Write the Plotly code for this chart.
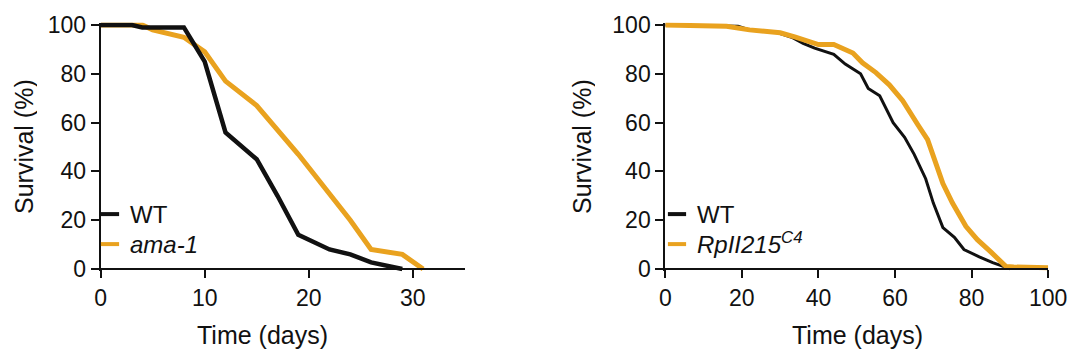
import plotly.graph_objects as go

# ---------------- data ----------------
# Left panel: WT vs ama-1 (days, % survival)
wt1_days = [0, 3, 4, 8, 10, 12, 15, 17, 19, 22, 24, 26, 29]
wt1_surv = [100, 100, 99, 99, 85, 56, 45, 30, 14, 8, 6, 2.7, 0]
ama_days = [0, 4, 5, 8, 10, 12, 15, 19, 24, 26, 29, 31]
ama_surv = [100, 100, 98, 95, 89, 77, 67, 47, 20, 8, 6, 0]

# Right panel: WT vs RpII215C4
wt2_days = [0, 19, 22, 29, 33, 36, 39, 44, 47, 51, 53, 56, 59.5, 62.5, 65, 68, 70,
            72.5, 75.5, 78, 82, 85.5, 89, 90]
wt2_surv = [100, 99.5, 98, 97, 95, 92.5, 90.5, 88, 84, 80, 74, 71, 60, 54, 47, 37, 27,
            17, 13, 8, 5, 2.6, 0.7, 0]
rp_days = [0, 16, 22, 30, 34, 37.5, 40, 44, 49, 51.5, 55, 58.5, 62, 66, 68.5, 72.5,
           75, 78.5, 81.5, 85, 89, 91, 100]
rp_surv = [100, 99.5, 98, 96.8, 95, 93.5, 92, 92, 88.5, 84.5, 80.5, 75.5, 69, 59, 53,
           35, 27, 17.5, 12, 7, 1, 0.8, 0.5]

left_xticks = [0, 10, 20, 30]
right_xticks = [0, 20, 40, 60, 80, 100]
yticks = [0, 20, 40, 60, 80, 100]

BLACK = "#111111"
ORANGE = "#E9A21F"
FONT = "Liberation Sans, Arial, sans-serif"
FS_TICK = 23
FS_TITLE = 25
FS_LEG = 24

fig = go.Figure()

# left panel: orange below black
fig.add_trace(go.Scatter(x=ama_days, y=ama_surv, mode="lines",
                         line=dict(color=ORANGE, width=5), showlegend=False,
                         xaxis="x", yaxis="y"))
fig.add_trace(go.Scatter(x=wt1_days, y=wt1_surv, mode="lines",
                         line=dict(color=BLACK, width=4.5), showlegend=False,
                         xaxis="x", yaxis="y"))
# right panel: black below orange
fig.add_trace(go.Scatter(x=wt2_days, y=wt2_surv, mode="lines",
                         line=dict(color=BLACK, width=3), showlegend=False,
                         xaxis="x2", yaxis="y2"))
fig.add_trace(go.Scatter(x=rp_days, y=rp_surv, mode="lines",
                         line=dict(color=ORANGE, width=5), showlegend=False,
                         xaxis="x2", yaxis="y2"))

# legend entries (short dash symbols), one legend box per entry
def leg(name, color, legend):
    return go.Scatter(x=[None], y=[None], mode="markers", name=name,
                      marker=dict(symbol="line-ew", size=13,
                                  line=dict(width=4, color=color)),
                      legend=legend, showlegend=True)

fig.add_trace(leg("WT", BLACK, "legend"))
fig.add_trace(leg("<i>ama-1</i>", ORANGE, "legend2"))
fig.add_trace(leg("WT", BLACK, "legend3"))
fig.add_trace(leg("<i>RpII215<sup>C4</sup></i>", ORANGE, "legend4"))

# page body has an 8px margin: figure sized to fit the window
OFF = 8
W, H = 1072, 352
def px_x(p):
    return (p - OFF) / W
def px_y(p):
    return 1 - (p - OFF) / H

ydom = [px_y(271.44), px_y(22.56)]
axis_common = dict(showgrid=False, zeroline=False, showline=True, linewidth=2,
                   linecolor=BLACK, ticks="outside", ticklen=8, tickwidth=2,
                   tickcolor=BLACK, automargin=False,
                   tickfont=dict(family=FONT, size=FS_TICK, color=BLACK))

def legbox(xp, yp):
    return dict(x=px_x(xp), y=px_y(yp), xanchor="left", yanchor="top",
                bgcolor="rgba(0,0,0,0)", borderwidth=0,
                font=dict(family=FONT, size=FS_LEG, color=BLACK))

title_font = dict(family=FONT, size=FS_TITLE, color=BLACK)

fig.update_layout(
    width=W, height=H,
    margin=dict(l=0, r=0, t=0, b=0, autoexpand=False),
    paper_bgcolor="white", plot_bgcolor="white",
    font=dict(family=FONT, size=FS_TICK, color=BLACK),
    xaxis=dict(domain=[px_x(100.7), px_x(464.7)], range=[0, 35],
               tickvals=left_xticks, anchor="free", position=px_y(269),
               **axis_common),
    yaxis=dict(domain=ydom, range=[-1, 101], tickvals=yticks, anchor="x",
               **axis_common),
    xaxis2=dict(domain=[px_x(665.3), px_x(1048.2)], range=[0, 100],
                tickvals=right_xticks, anchor="free", position=px_y(269),
                **axis_common),
    yaxis2=dict(domain=ydom, range=[-1, 101], tickvals=yticks, anchor="x2",
                **axis_common),
    legend=legbox(90, 192),
    legend2=legbox(90, 222),
    legend3=legbox(657, 192),
    legend4=legbox(657, 222),
    annotations=[
        dict(text="Survival (%)", x=px_x(23), y=px_y(147), xref="paper", yref="paper",
             textangle=-90, showarrow=False, xanchor="center", yanchor="middle",
             height=27, borderpad=0, font=title_font),
        dict(text="Survival (%)", x=px_x(581), y=px_y(147), xref="paper", yref="paper",
             textangle=-90, showarrow=False, xanchor="center", yanchor="middle",
             height=27, borderpad=0, font=title_font),
        dict(text="Time (days)", x=px_x(262), y=px_y(335), xref="paper", yref="paper",
             showarrow=False, xanchor="center", yanchor="middle",
             font=title_font),
        dict(text="Time (days)", x=px_x(857), y=px_y(335), xref="paper", yref="paper",
             showarrow=False, xanchor="center", yanchor="middle",
             font=title_font),
    ],
)

fig.write_html("out.html")
